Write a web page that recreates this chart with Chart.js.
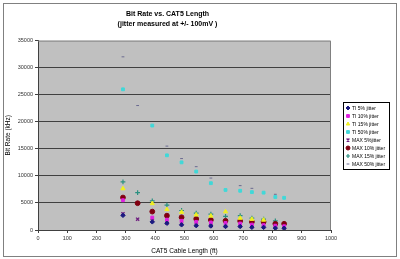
<!DOCTYPE html>
<html>
<head>
<meta charset="utf-8">
<script src="https://cdn.jsdelivr.net/npm/chart.js@4/dist/chart.umd.min.js"></script>
<style>
  html, body { margin: 0; padding: 0; background: #ffffff; }
  #wrap { position: relative; width: 400px; height: 259px; }
</style>
</head>
<body>
<div id="wrap"><canvas id="bitRateChart" width="400" height="259"></canvas></div>
<script>
// cable lengths (ft) shared by all series, null = no reading
const lengths = [290, 340, 390, 440, 490, 540, 590, 640, 690, 730, 770, 810, 840];

const ti5 = [2700, null, 1500, 1250, 950, 800, 740, 650, 650, 500, 490, 350, 330];
const ti10 = [5500, null, 2300, 1900, 1700, 1500, 1400, 1300, 1200, 1000, 900, 800, 700];
const ti15 = [7650, null, 4900, 3800, 3300, 2800, 2600, 3400, 2200, 2000, 1850, null, null];
const ti50 = [26000, null, 19300, 13800, 12500, 10800, 8650, 7400, 7250, 7000, 6900, 6100, 5950];
const max5 = [3000, 2000, 1750, 1300, 1100, 900, 800, 700, 700, 600, 550, 450, 400];
const max10 = [6000, 4950, 3400, 2650, 2350, 2050, 1850, 1700, 1650, 1500, 1500, 1150, 1150];
const max15 = [8900, 6900, 5400, 4600, 3600, 3100, 2950, 2500, 2650, 2200, 2000, 1700, null];
const max50 = [32000, 23000, null, 15500, 13200, 11700, 9600, null, 8200, 7700, null, 6600, null];

const yTicks = [0, 5000, 10000, 15000, 20000, 25000, 30000, 35000];

function toPoints(values) {
    const pts = [];
    values.forEach((v, i) => {
        if (v !== null) pts.push({ x: lengths[i], y: v });
    });
    return pts;
}

// grey plot area like the old spreadsheet charts
const plotBackground = {
    id: 'plotBackground',
    beforeDraw(chart) {
        const { ctx, chartArea: a } = chart;
        ctx.save();
        ctx.fillStyle = '#c0c0c0';
        ctx.fillRect(a.left, a.top, a.right - a.left, a.bottom - a.top);
        ctx.restore();
    },
    afterDraw(chart) {
        const { ctx, chartArea: a } = chart;
        ctx.save();
        ctx.strokeStyle = '#808080';
        ctx.lineWidth = 1;
        ctx.beginPath();
        ctx.moveTo(a.left, a.top + 0.5);
        ctx.lineTo(a.right - 0.5, a.top + 0.5);
        ctx.lineTo(a.right - 0.5, a.bottom);
        ctx.stroke();
        // outer frame
        ctx.strokeStyle = '#808080';
        ctx.strokeRect(3.5, 3.5, 393, 253);
        ctx.restore();
    }
};

// boxed legend on the right
const boxLegend = {
    id: 'boxLegend',
    afterDraw(chart) {
        const { ctx } = chart;
        const x0 = 343, y0 = 102, w = 46, h = 67, rowH = 8;
        ctx.save();
        ctx.fillStyle = '#ffffff';
        ctx.fillRect(x0, y0, w, h);
        ctx.strokeStyle = '#000000';
        ctx.lineWidth = 1;
        ctx.strokeRect(x0 + 0.5, y0 + 0.5, w, h);
        ctx.font = '5px "Liberation Sans", Arial, sans-serif';
        ctx.textBaseline = 'middle';
        chart.data.datasets.forEach((ds, i) => {
            const cy = y0 + 6 + i * rowH;
            ctx.fillStyle = ds.backgroundColor;
            ctx.strokeStyle = ds.borderColor;
            ctx.lineWidth = ds.borderWidth;
            Chart.helpers.drawPoint(ctx, {
                pointStyle: ds.pointStyle,
                radius: Math.min(ds.pointRadius, 2),
                borderWidth: ds.borderWidth,
                rotation: 0
            }, x0 + 5, cy);
            ctx.fillStyle = '#000000';
            ctx.fillText(ds.label, x0 + 9, cy + 0.5);
        });
        ctx.restore();
    }
};

function series(label, values, color, style, radius, border) {
    return {
        label: label,
        data: toPoints(values),
        backgroundColor: color,
        borderColor: color,
        pointStyle: style,
        pointRadius: radius,
        pointHoverRadius: radius,
        borderWidth: border,
        showLine: false
    };
}

new Chart(document.getElementById('bitRateChart'), {
    type: 'scatter',
    data: {
        datasets: [
            series('TI 5% jitter', ti5, '#1a1a80', 'rectRot', 2.2, 1),
            series('TI 10% jitter', ti10, '#e020e0', 'rect', 2, 1),
            series('TI 15% jitter', ti15, '#f0f020', 'triangle', 2.4, 1),
            series('TI 50% jitter', ti50, '#40d8d8', 'rect', 2, 1),
            series('MAX 5%jitter', max5, '#702080', 'crossRot', 2.2, 1.4),
            series('MAX 10% jitter', max10, '#800010', 'circle', 2.4, 1),
            series('MAX 15% jitter', max15, '#2a9080', 'cross', 2.4, 1.2),
            series('MAX 50% jitter', max50, '#6a6a90', 'line', 1.4, 1)
        ]
    },
    options: {
        responsive: false,
        animation: false,
        layout: { padding: { left: 4, right: 69, top: 0, bottom: 4 } },
        plugins: {
            legend: { display: false },
            tooltip: { enabled: false },
            title: {
                display: true,
                text: ['Bit Rate vs. CAT5 Length', '(jitter measured at +/- 100mV )'],
                color: '#000000',
                font: { family: '"Liberation Sans", Arial, sans-serif', size: 7, weight: 'bold', lineHeight: 1.4 },
                padding: { top: 9, bottom: 12 }
            }
        },
        scales: {
            x: {
                type: 'linear',
                min: 0,
                max: 1000,
                ticks: {
                    stepSize: 100,
                    color: '#333333',
                    padding: 2,
                    maxRotation: 0,
                    callback: v => String(v),
                    font: { family: '"Liberation Sans", Arial, sans-serif', size: 5.5 }
                },
                grid: { drawOnChartArea: false, color: '#404040', tickLength: 3 },
                border: { color: '#404040' },
                title: {
                    display: true,
                    text: 'CAT5 Cable Length (ft)',
                    color: '#000000',
                    padding: { top: 3, bottom: 0 },
                    font: { family: '"Liberation Sans", Arial, sans-serif', size: 6.5 }
                },
                afterFit(scale) { scale.height = 25; }
            },
            y: {
                type: 'linear',
                min: 0,
                max: 35000,
                afterBuildTicks(scale) { scale.ticks = yTicks.map(v => ({ value: v })); },
                ticks: {
                    color: '#333333',
                    padding: 2,
                    callback: v => String(v),
                    font: { family: '"Liberation Sans", Arial, sans-serif', size: 5.5 }
                },
                grid: {
                    color: ctx => (ctx.tick && ctx.tick.value === 35000) ? 'rgba(0,0,0,0)' : '#404040',
                    tickColor: '#404040',
                    tickLength: 3
                },
                border: { color: '#404040' },
                title: {
                    display: true,
                    text: 'Bit Rate (kHz)',
                    color: '#000000',
                    padding: { top: 0, bottom: 4 },
                    font: { family: '"Liberation Sans", Arial, sans-serif', size: 6.5 }
                },
                afterFit(scale) { scale.width = 34; }
            }
        }
    },
    plugins: [plotBackground, boxLegend]
});
</script>
</body>
</html>
